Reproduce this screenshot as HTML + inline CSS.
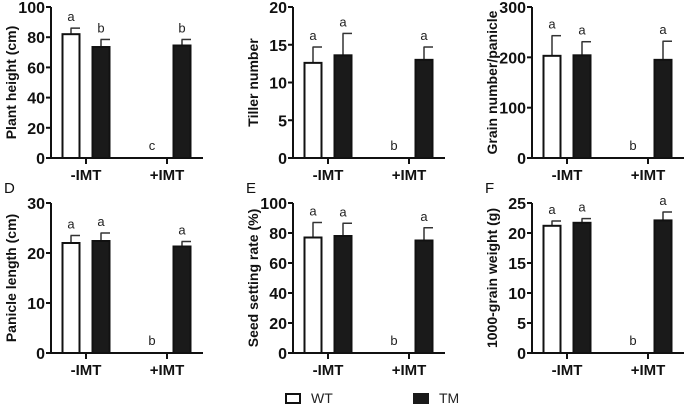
<!DOCTYPE html>
<html><head><meta charset="utf-8">
<style>
body{margin:0;background:#fff;}
svg{display:block;font-family:"Liberation Sans",Arial,sans-serif;}
</style></head>
<body>
<svg id="fig" width="685" height="408" viewBox="0 0 685 408"></svg>
<script>
const groups = ["-IMT","+IMT"];
const titles = ["Plant height (cm)","Tiller number","Grain number/panicle","Panicle length (cm)","Seed setting rate (%)","1000-grain weight (g)"];
const yMaxs = [100,20,300,30,100,25];
const tickSteps = [20,5,100,10,20,5];
const wtMeans = [82,12.6,203,22,77,21.2];
const wtErrs = [4,2.1,40,1.5,10,0.8];
const tmMinus = [73.5,13.6,204,22.4,78,21.7];
const tmMinusErr = [5,2.9,27,1.6,8.5,0.7];
const tmPlus = [74.5,13.0,195,21.3,75,22.1];
const tmPlusErr = [4,1.7,37,1,8.5,1.4];
const letters = [["a","b","c","b"],["a","a","b","a"],["a","a","b","a"],["a","a","b","a"],["a","a","b","a"],["a","a","b","a"]];
const panelLetters = ["","","","D","E","F"];

const NS="http://www.w3.org/2000/svg";
const svg=document.getElementById('fig');
function mk(tag,attrs,parent,text){const e=document.createElementNS(NS,tag);for(const k in attrs)e.setAttribute(k,attrs[k]);if(text!==undefined)e.textContent=text;(parent||svg).appendChild(e);return e;}

const axX=[51,293,532,51,293,532];
const topY=[7,7,7,203,203,203];
const botY=[158,158,158,353,353,353];

for(let p=0;p<6;p++){
  const g=mk('g',{});
  
  
  const x0=axX[p], y0=botY[p], y1=topY[p];
  const ys=v=>y0-(v/yMaxs[p])*(y0-y1);
  const gx=[x0+35,x0+116];
  const ya=mk('line',{x1:x0,y1:y1,x2:x0,y2:y0+1,stroke:'#111','stroke-width':2},g);
  
  for(let v=0;v<=yMaxs[p]+1e-9;v+=tickSteps[p]){
    mk('line',{x1:x0-5,y1:ys(v),x2:x0,y2:ys(v),stroke:'#111','stroke-width':2},g);
    const t=mk('text',{x:x0-6,y:ys(v)+6,'text-anchor':'end','font-size':16,'font-weight':'bold',fill:'#111'},g,String(v));
    
  }
  const xa=mk('line',{x1:x0-1,y1:y0,x2:x0+152,y2:y0,stroke:'#111','stroke-width':2},g);
  
  groups.forEach((gn,i)=>{
    mk('line',{x1:gx[i],y1:y0,x2:gx[i],y2:y0+6,stroke:'#111','stroke-width':2},g);
    const t=mk('text',{x:gx[i],y:y0+22,'text-anchor':'middle','font-size':15,'font-weight':'bold',fill:'#111'},g,gn);
    
  });
  const tt=mk('text',{transform:`translate(${x0-35},${(y0+y1)/2}) rotate(-90)`,'text-anchor':'middle','font-size':14,'font-weight':'bold',fill:'#111'},g,titles[p]);
  
  if(panelLetters[p]){const pl=mk('text',{x:x0-47,y:y1-10,'font-size':15,fill:'#111'},g,panelLetters[p]);
    }
  const bars=[
    {cx:gx[0]-15,v:wtMeans[p],e:wtErrs[p],fill:'#fff',n:'bar-wt-minus-imt'},
    {cx:gx[0]+15,v:tmMinus[p],e:tmMinusErr[p],fill:'#1a1a1a',n:'bar-tm-minus-imt'},
    {cx:gx[1]-15,v:0,e:0,fill:'#fff',n:'bar-wt-plus-imt'},
    {cx:gx[1]+15,v:tmPlus[p],e:tmPlusErr[p],fill:'#1a1a1a',n:'bar-tm-plus-imt'}];
  bars.forEach((b,i)=>{
    if(b.v>0){
      const top=ys(b.v+b.e);
      mk('line',{x1:b.cx,y1:ys(b.v),x2:b.cx,y2:top,stroke:'#333','stroke-width':1.5},g);
      mk('line',{x1:b.cx-0.5,y1:top,x2:b.cx+9,y2:top,stroke:'#333','stroke-width':1.5},g);
      const r=mk('rect',{x:b.cx-8.5,y:ys(b.v),width:17,height:y0-ys(b.v),fill:b.fill,stroke:'#111','stroke-width':2},g);
      
    }
    const ly=b.v>0?ys(b.v+b.e)-7:y0-8;
    const l=mk('text',{x:b.cx,y:ly,'text-anchor':'middle','font-size':13,fill:'#222'},g,letters[p][i]);
    
  });
}
const lg=mk('g',{});


const l1=mk('rect',{x:286,y:394,width:14,height:9,fill:'#fff',stroke:'#111','stroke-width':2},lg);

const t1=mk('text',{x:311,y:403,'font-size':14,fill:'#222'},lg,'WT');

const l2=mk('rect',{x:413,y:393,width:16,height:11,fill:'#1a1a1a'},lg);

const t2=mk('text',{x:439,y:403,'font-size':14,fill:'#222'},lg,'TM');

</script>
</body></html>
